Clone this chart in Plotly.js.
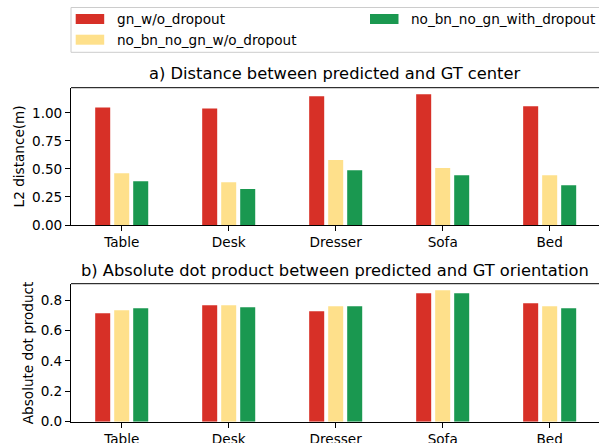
<!DOCTYPE html>
<html>
<head>
<meta charset="utf-8">
<script src="https://cdn.plot.ly/plotly-3.0.1.min.js"></script>
<style>
html, body { margin: 0; padding: 0; overflow: hidden; background: #fff; }
#chart { width: 599px; height: 443px; }
</style>
</head>
<body>
<div id="chart"></div>
<script>
// ---- data ----
const categories = ["Table", "Desk", "Dresser", "Sofa", "Bed"];
const seriesNames = ["gn_w/o_dropout", "no_bn_no_gn_w/o_dropout", "no_bn_no_gn_with_dropout"];
const seriesColors = ["#d73027", "#fee08b", "#1a9850"];
const distGn = [1.047, 1.038, 1.147, 1.165, 1.059];
const distNoBnW = [0.461, 0.380, 0.580, 0.508, 0.444];
const distNoBnDrop = [0.390, 0.320, 0.488, 0.444, 0.355];
const dotGn = [0.713, 0.765, 0.726, 0.844, 0.778];
const dotNoBnW = [0.732, 0.765, 0.759, 0.864, 0.759];
const dotNoBnDrop = [0.746, 0.752, 0.759, 0.844, 0.746];
const titleA = "a) Distance between predicted and GT center";
const titleB = "b) Absolute dot product between predicted and GT orientation";
const ylabelA = "L2 distance(m)";
const ylabelB = "Absolute dot product";

// ---- layout helpers (pixel -> paper) ----
const W = 599, H = 443;
const px = v => v / W;
const py = v => (H - v) / H;
const FONT = "DejaVu Sans, sans-serif";
const TXT = "#000000";
const FS = 13.6;

const distSeries = [distGn, distNoBnW, distNoBnDrop];
const dotSeries = [dotGn, dotNoBnW, dotNoBnDrop];

const traces = [];
distSeries.forEach((vals, i) => {
  traces.push({type: "bar", x: categories, y: vals, name: seriesNames[i],
    marker: {color: seriesColors[i], line: {width: 0}}, xaxis: "x", yaxis: "y", showlegend: false});
});
dotSeries.forEach((vals, i) => {
  traces.push({type: "bar", x: categories, y: vals, name: seriesNames[i],
    marker: {color: seriesColors[i], line: {width: 0}}, xaxis: "x2", yaxis: "y2", showlegend: false});
});

const maxA = Math.max(...distSeries.flat()) * 1.05;
const maxB = Math.max(...dotSeries.flat()) * 1.05;

const xDomain = [px(71), 1];
const yDomA = [py(225), py(87.7)];
const yDomB = [py(421.7), py(283.7)];

const axisCommon = {
  showgrid: false, zeroline: false, showline: true, linecolor: "#000", linewidth: 1,
  ticks: "outside", ticklen: 5, tickwidth: 1, tickcolor: "#000",
  tickfont: {family: FONT, size: FS, color: TXT}, fixedrange: true
};
const xRange = [-0.474, 4.461];

const shapes = [
  // top spines
  {type: "line", xref: "paper", yref: "paper", x0: xDomain[0], x1: 1.01, y0: yDomA[1], y1: yDomA[1], line: {color: "#000", width: 1}},
  {type: "line", xref: "paper", yref: "paper", x0: xDomain[0], x1: 1.01, y0: yDomB[1], y1: yDomB[1], line: {color: "#000", width: 1}},
  // legend frame
  {type: "rect", xref: "paper", yref: "paper", x0: px(71), x1: px(610), y0: py(52.3), y1: py(7.5),
    fillcolor: "rgba(255,255,255,0.8)", line: {color: "#cccccc", width: 1}, layer: "above"}
];
const annotations = [
  {text: titleA, xref: "paper", yref: "paper", x: px(335), y: py(74), xanchor: "center", yanchor: "middle", showarrow: false,
    font: {family: FONT, size: 16.3, color: TXT}},
  {text: titleB, xref: "paper", yref: "paper", x: px(335), y: py(270.2), xanchor: "center", yanchor: "middle", showarrow: false,
    font: {family: FONT, size: 16.3, color: TXT}},
  {text: ylabelA, xref: "paper", yref: "paper", x: px(19), y: py(156.4), xanchor: "center", yanchor: "middle", textangle: -90, showarrow: false,
    font: {family: FONT, size: FS, color: TXT}},
  {text: ylabelB, xref: "paper", yref: "paper", x: px(27.5), y: py(352.7), xanchor: "center", yanchor: "middle", textangle: -90, showarrow: false,
    font: {family: FONT, size: FS, color: TXT}}
];
// custom legend (matplotlib style, ncol=2, column-first)
const legendPos = [
  {sx: 75.7, tx: 115, cy: 19},
  {sx: 75.7, tx: 115, cy: 39.7},
  {sx: 370, tx: 409.3, cy: 19}
];
seriesNames.forEach((name, i) => {
  const p = legendPos[i];
  shapes.push({type: "rect", xref: "paper", yref: "paper", x0: px(p.sx), x1: px(p.sx + 28.5), y0: py(p.cy + 5), y1: py(p.cy - 5),
    fillcolor: seriesColors[i], line: {width: 0}, layer: "above"});
  annotations.push({text: name, xref: "paper", yref: "paper", x: px(p.tx), y: py(p.cy), xanchor: "left", yanchor: "middle",
    showarrow: false, font: {family: FONT, size: FS, color: TXT}});
});

const layout = {
  width: W, height: H,
  margin: {l: 0, r: 0, t: 0, b: 0, pad: 0},
  paper_bgcolor: "#fff", plot_bgcolor: "#fff",
  barmode: "group", bargap: 0.467, bargroupgap: 0.21,
  showlegend: false,
  font: {family: FONT, color: TXT},
  xaxis: Object.assign({}, axisCommon, {domain: xDomain, anchor: "y", type: "category", range: xRange}),
  yaxis: Object.assign({}, axisCommon, {domain: yDomA, anchor: "x", range: [0, maxA], dtick: 0.25, tick0: 0, tickformat: ".2f"}),
  xaxis2: Object.assign({}, axisCommon, {domain: xDomain, anchor: "y2", type: "category", range: xRange}),
  yaxis2: Object.assign({}, axisCommon, {domain: yDomB, anchor: "x2", range: [0, maxB], dtick: 0.2, tick0: 0, tickformat: ".1f"}),
  shapes: shapes,
  annotations: annotations
};

Plotly.newPlot("chart", traces, layout, {staticPlot: true, displayModeBar: false});
</script>
</body>
</html>
